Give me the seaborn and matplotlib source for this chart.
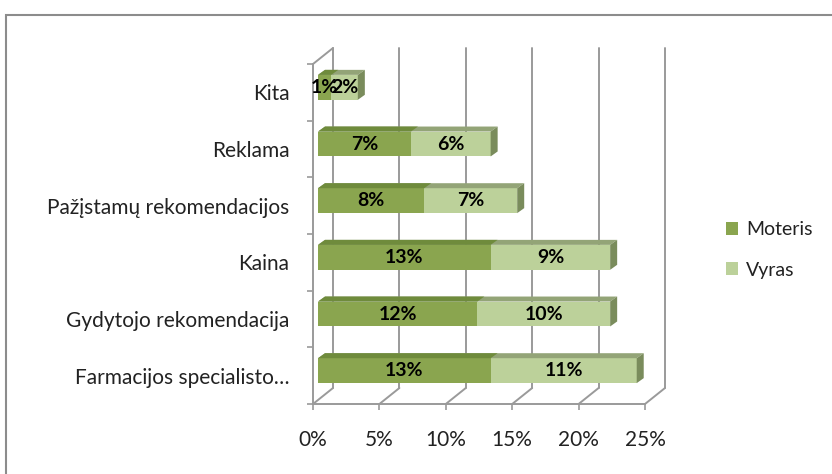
import matplotlib
matplotlib.use("Agg")
import matplotlib.pyplot as plt
import seaborn as sns
import pandas as pd
from matplotlib.patches import Polygon, Rectangle, Patch

# data (percent)
categories = ["Kita", "Reklama", "Pažįstamų rekomendacijos", "Kaina",
              "Gydytojo rekomendacija", "Farmacijos specialisto…"]
moteris = [1, 7, 8, 13, 12, 13]
vyras = [2, 6, 7, 9, 10, 11]
x_ticks = [0, 5, 10, 15, 20, 25]
series_names = ["Moteris", "Vyras"]

dark = "#8AA54F"
light = "#BCD19A"
dark_top = "#6F8B3C"
light_top = "#93A477"
side = "#7A8C5C"
grid_c = "#9A9A9A"

sns.set_style("white")
plt.rcParams["font.family"] = ["Lato", "DejaVu Sans"]

W, H, DPI = 832, 474, 100
fig = plt.figure(figsize=(W / DPI, H / DPI), dpi=DPI)
ax = fig.add_axes([313 / W, (H - 404) / H, 332 / W, 340 / H])

df = pd.DataFrame({"category": categories, "moteris": moteris, "vyras": vyras})
df["total"] = df["moteris"] + df["vyras"]

# stacked bars: total first (light), women on top (dark)
sns.barplot(data=df, x="total", y="category", color=light, width=0.44,
            orient="h", ax=ax, saturation=1, zorder=3)
sns.barplot(data=df, x="moteris", y="category", color=dark, width=0.44,
            orient="h", ax=ax, saturation=1, zorder=4)

ax.set_xlim(0, 25)
ax.set_ylim(5.5, -0.5)

# pixel -> data conversion for the 3D look
px_x = 332 / 25
px_y = 340 / 6
def ddx(p):
    return p / px_x
def ddy(p):
    return p / px_y

back_x, back_y = ddx(20), ddy(16)
front_x, front_y = ddx(5), ddy(5)
depth_x, depth_y = ddx(7), ddy(5)

n = len(categories)
light_bars = ax.patches[:n]
dark_bars = ax.patches[n:2 * n]
for bars in (light_bars, dark_bars):
    for p in bars:
        p.set_x(p.get_x() + front_x)
        p.set_y(p.get_y() - front_y)
        p.set_edgecolor("none")

for lb, db in zip(light_bars, dark_bars):
    x0 = lb.get_x()
    y_top = lb.get_y()
    h = lb.get_height()
    x_end = x0 + lb.get_width()
    x_mid = x0 + db.get_width()
    # top faces
    ax.add_patch(Polygon([(x0, y_top), (x_end, y_top), (x_end + depth_x, y_top - depth_y),
                          (x0 + depth_x, y_top - depth_y)], closed=True,
                         facecolor=light_top, edgecolor="none", zorder=3))
    ax.add_patch(Polygon([(x0, y_top), (x_mid, y_top), (x_mid + depth_x, y_top - depth_y),
                          (x0 + depth_x, y_top - depth_y)], closed=True,
                         facecolor=dark_top, edgecolor="none", zorder=4))
    # right side face
    ax.add_patch(Polygon([(x_end, y_top), (x_end + depth_x, y_top - depth_y),
                          (x_end + depth_x, y_top + h - depth_y), (x_end, y_top + h)],
                         closed=True, facecolor=side, edgecolor="none", zorder=3))

# value labels
for i in range(n):
    yc = i - front_y
    ax.text(front_x + moteris[i] / 2, yc, f"{moteris[i]}%", ha="center", va="center",
            fontsize=14, fontweight="bold", color="black", zorder=6)
    ax.text(front_x + moteris[i] + vyras[i] / 2, yc, f"{vyras[i]}%", ha="center",
            va="center", fontsize=14, fontweight="bold", color="black", zorder=6)

# back wall gridlines and floor diagonals
for t in x_ticks:
    ax.plot([t + back_x, t + back_x], [5.5 - back_y, -0.5 - back_y], color=grid_c,
            lw=1.4, zorder=1, clip_on=False)
    ax.plot([t, t + back_x], [5.5, 5.5 - back_y], color=grid_c, lw=1.4, zorder=1,
            clip_on=False)
ax.plot([0, back_x], [-0.5, -0.5 - back_y], color=grid_c, lw=1.4, zorder=1, clip_on=False)

# axes styling
for s in ("top", "right"):
    ax.spines[s].set_visible(False)
for s in ("left", "bottom"):
    ax.spines[s].set_color(grid_c)
    ax.spines[s].set_linewidth(1.4)

ax.set_xticks(x_ticks)
ax.set_xticklabels([f"{t}%" for t in x_ticks], fontsize=15, color="#222222")
ax.tick_params(axis="x", direction="out", length=4, width=1.2, color=grid_c, pad=15,
               bottom=True)
ax.set_yticks(range(n))
ax.set_yticklabels(categories, fontsize=15, color="#222222")
ax.set_yticks([i - 0.5 for i in range(n + 1)], minor=True)
ax.tick_params(axis="y", which="major", length=0, pad=17)
ax.tick_params(axis="y", which="minor", direction="out", length=4, width=1.2,
               color=grid_c, left=True)
ax.set_xlabel("")
ax.set_ylabel("")
ax.grid(False)
ax.set_facecolor("none")

# legend
handles = [Patch(facecolor=dark, edgecolor="none"), Patch(facecolor=light, edgecolor="none")]
fig.legend(handles, series_names, loc="center left", bbox_to_anchor=(708 / W, 1 - 250 / H),
           frameon=False, fontsize=14, handlelength=0.65, handleheight=0.65,
           handletextpad=0.4, labelspacing=1.2, labelcolor="#222222")

# outer chart border (runs off the right and bottom edges)
fig.add_artist(Rectangle((6 / W, -0.1), 2, 1.1 - 15 / H, transform=fig.transFigure,
                         fill=False, edgecolor="#8C8C8C", lw=1.5))

fig.savefig("out.png", dpi=DPI)
